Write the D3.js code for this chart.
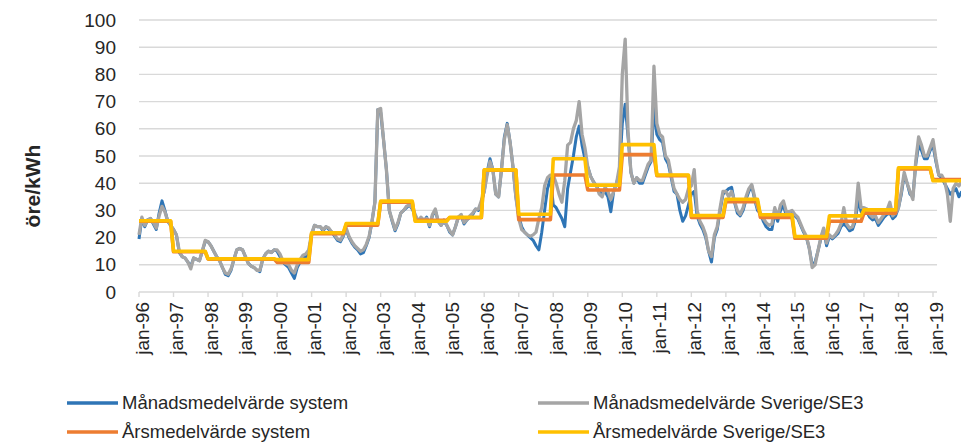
<!DOCTYPE html>
<html>
<head>
<meta charset="utf-8">
<title>Elpris</title>
<script src="https://cdn.jsdelivr.net/npm/d3@7"></script>
<style>
body { margin: 0; background: #fff; }
svg { font-family: "Liberation Sans", Arial, sans-serif; }
</style>
</head>
<body>
<script>

// monthly data starts jan-96
var startYear = 1996;
var tickLabels = ["jan-96","jan-97","jan-98","jan-99","jan-00","jan-01","jan-02","jan-03",
	"jan-04","jan-05","jan-06","jan-07","jan-08","jan-09","jan-10","jan-11","jan-12",
	"jan-13","jan-14","jan-15","jan-16","jan-17","jan-18","jan-19"];
var yTicks = [0, 10, 20, 30, 40, 50, 60, 70, 80, 90, 100];

// Månadsmedelvärde system (öre/kWh)
var sysMonthly = [
	19.5, 27, 24, 26.5, 27, 25, 23, 29, 33.5, 30, 26, 24.5,
	23, 21, 14.5, 13, 12.5, 11, 9.5, 12.5, 12, 11.5, 15, 18.5,
	18.5, 17, 15, 13, 11.5, 9, 6.5, 6, 8, 12, 15.5, 16,
	15.5, 13, 10.5, 9.5, 9, 8, 7.5, 12, 14, 15, 14.5, 15.5,
	15, 13, 11, 10, 9, 7, 5, 9, 11, 12.5, 13, 14.5,
	21, 24.5, 24, 24, 22.5, 24, 23, 22, 20.5, 19, 18.5, 20.5,
	23, 20, 18, 16.5, 15.5, 14, 14.5, 17, 20, 26, 33, 67,
	66, 56, 45, 30, 26, 22.5, 25, 29, 30, 31, 32, 30.5,
	28, 26, 27, 26, 27.5, 24, 28, 30, 26, 24.5, 26, 24.5,
	22, 21, 24, 27.5, 28, 25, 26.5, 27.5, 28.5, 30.5, 30, 33,
	37, 44, 49, 45, 36, 35, 45, 57, 62, 55, 46, 35,
	28, 24, 22, 21, 20, 19, 17, 15.5, 22, 30, 38, 42,
	32, 31, 29, 27, 24, 38, 44, 50, 57, 61, 54, 49,
	46, 42.5, 40.5, 39, 37, 36, 37, 35, 29.5, 37, 40, 44,
	62, 69, 57, 44, 40, 42, 40, 40, 43, 46, 48, 68,
	58, 56, 55, 49, 47, 42, 37, 36, 30, 26, 28, 32,
	36, 37, 28, 25, 23, 20, 15, 11, 20, 23, 30, 36,
	37, 38, 38.5, 33, 29, 28, 30, 34, 37, 39, 34, 30,
	29, 26, 24, 23, 23, 29, 26, 30, 32, 28, 28, 29,
	28, 27, 24.5, 22, 20, 16, 10, 11, 15, 19.5, 23, 17,
	20.5, 19.5, 20.5, 21.5, 24, 25, 24, 22.5, 23, 26, 34, 29.5,
	30, 29.5, 27.5, 26.5, 27, 24.5, 26, 27.5, 28.5, 29, 27, 28,
	31, 36, 43, 40, 36, 35, 47, 54, 52, 49, 49, 52,
	54, 48, 43, 42, 40, 38, 36, 37, 38, 35, 37
];

// Månadsmedelvärde Sverige/SE3
var se3Monthly = [
	21, 27.5, 24.5, 26.5, 27, 25.5, 23.5, 28, 31.5, 29.5, 26, 24.5,
	23, 21, 15, 13, 12.5, 11, 8.5, 12.5, 12, 11.5, 15, 19,
	18.5, 17, 15, 13, 11.5, 9, 7, 6.5, 8.5, 12, 15.5, 16,
	15.5, 13, 10.5, 9.5, 9, 8, 8, 12, 14, 15, 14.5, 15.5,
	15.5, 14, 11.5, 10.5, 10, 8, 7, 10, 12, 13.5, 14, 15.5,
	21.5, 24.5, 24, 24, 23, 24, 23.5, 22, 21, 19.5, 19, 21,
	23.5, 20.5, 18.5, 17, 16, 15, 15.5, 17.5, 20.5, 26, 33, 67,
	67.5, 56, 45, 30, 26.5, 23, 25.5, 29, 30, 31.5, 32, 31,
	28.5, 26, 27.5, 26.5, 27, 24.5, 28.5, 30.5, 26, 24.5, 26.5, 24.5,
	22.5, 21, 24, 27.5, 28.5, 25.5, 26.5, 28, 29, 30.5, 30.5, 33.5,
	37, 43, 48, 45, 36, 35, 45, 56, 61.5, 55, 46, 35,
	27, 23, 22, 21, 20.5, 21, 22, 27, 31, 39, 42, 43,
	43, 40, 36, 33, 41, 54, 55, 60, 63, 70, 58, 53,
	46, 42.5, 40.5, 39, 36, 35, 38.5, 37, 34, 37, 40, 46,
	80, 93, 59, 44, 40, 42, 41, 41, 44, 47, 48.5, 83,
	62, 58, 57, 50, 48.5, 43, 38, 36, 34, 33, 34, 38,
	39, 45, 30, 26, 24, 21, 15, 13, 21, 24, 31, 37,
	37, 35, 37, 33.5, 30, 28.5, 31, 35, 38, 39.5, 35, 31,
	29, 27, 25.5, 24.5, 25, 31, 27.5, 32, 33.5, 29.5, 29.5, 30,
	28.5, 27.5, 25, 22.5, 20.5, 16, 9, 10, 15, 20, 23.5, 18,
	21, 20, 21, 22.5, 25, 31, 25, 23.5, 24, 27.5, 40, 31,
	31, 30.5, 28.5, 27.5, 28, 25.5, 27, 28.5, 30, 33, 28, 29,
	31, 37, 44, 40, 37, 34, 48, 57, 54, 50, 50, 53,
	56, 49, 43, 43, 41, 36, 26, 38, 40, 39, 41
];

// Årsmedelvärde, one value per year 1996-2019
var sysAnnual = [26, 14.8, 12.1, 12.1, 10.9, 21.4, 24.6, 33.0, 26.4, 27.3, 44.8, 26.6,
	43.0, 37.5, 50.5, 42.8, 27.4, 33.2, 27.4, 19.8, 26.0, 29.0, 45.2, 41.3];
var se3Annual = [26.2, 15.0, 12.2, 12.2, 11.9, 21.8, 25.2, 33.4, 26.0, 27.5, 44.9, 28.6,
	49.0, 39.3, 54.2, 43.0, 28.1, 34.1, 28.4, 20.4, 28.0, 30.2, 45.7, 40.9];

var seriesNames = ["Månadsmedelvärde system", "Månadsmedelvärde Sverige/SE3",
	"Årsmedelvärde system", "Årsmedelvärde Sverige/SE3"];
var seriesColors = ["#2e75b6", "#a5a5a5", "#ed7d31", "#ffc000"];


var width = 961, height = 444;

var svg = d3.select("body")
	.append("svg")
	.attr("width", width)
	.attr("height", height);

var x = d3.scaleLinear().domain([0, 276]).range([139, 933]);
var y = d3.scaleLinear().domain([0, 100]).range([292, 20]);
var lastMonth = 277.4; // right end of the plot area

function expandAnnual(annual, n){
	var out = [];
	for (var m = 0; m < n; m++){
		out.push(annual[Math.floor(m / 12)]);
	}
	return out;
}

var n = sysMonthly.length;
var series = [
	sysMonthly,
	se3Monthly,
	expandAnnual(sysAnnual, n),
	expandAnnual(se3Annual, n)
];
var widths = [3, 3.3, 3.6, 3.6];

// grid
svg.append("g").selectAll("line")
	.data(yTicks)
	.enter()
	.append("line")
	.attr("x1", x(0))
	.attr("x2", x(lastMonth))
	.attr("y1", function(d){ return y(d); })
	.attr("y2", function(d){ return y(d); })
	.attr("stroke", "#d9d9d9")
	.attr("stroke-width", 1.4);

// x ticks
svg.append("g").selectAll("line")
	.data(tickLabels)
	.enter()
	.append("line")
	.attr("x1", function(d, i){ return x(i * 12); })
	.attr("x2", function(d, i){ return x(i * 12); })
	.attr("y1", y(0))
	.attr("y2", y(0) + 5)
	.attr("stroke", "#d9d9d9")
	.attr("stroke-width", 1.4);

svg.append("g").selectAll("text")
	.data(yTicks)
	.enter()
	.append("text")
	.attr("x", 116)
	.attr("y", function(d){ return y(d); })
	.attr("dy", "0.35em")
	.attr("text-anchor", "end")
	.attr("font-size", 19)
	.attr("fill", "#262626")
	.text(function(d){ return d; });

svg.append("g").selectAll("text")
	.data(tickLabels)
	.enter()
	.append("text")
	.attr("transform", function(d, i){
		return "translate(" + x(i * 12) + "," + (y(0) + 10) + ") rotate(-90)";
	})
	.attr("dy", "0.5em")
	.attr("text-anchor", "end")
	.attr("font-size", 19)
	.attr("fill", "#262626")
	.text(function(d){ return d; });

svg.append("text")
	.attr("transform", "translate(40,186) rotate(-90)")
	.attr("text-anchor", "middle")
	.attr("font-size", 21)
	.attr("font-weight", "bold")
	.attr("fill", "#262626")
	.text("öre/kWh");

var line = d3.line()
	.x(function(d, i){ return x(i); })
	.y(function(d){ return y(d); });

svg.append("g").selectAll("path")
	.data(series)
	.enter()
	.append("path")
	.attr("d", line)
	.attr("fill", "none")
	.attr("stroke", function(d, i){ return seriesColors[i]; })
	.attr("stroke-width", function(d, i){ return widths[i]; })
	.attr("stroke-linejoin", "round");

// legend
var legendPos = [[67, 403], [538, 403], [67, 432], [538, 432]];
var leg = svg.append("g").selectAll("g")
	.data(seriesNames)
	.enter()
	.append("g")
	.attr("transform", function(d, i){
		return "translate(" + legendPos[i][0] + "," + legendPos[i][1] + ")";
	});
leg.append("line")
	.attr("x1", 0).attr("x2", 51)
	.attr("stroke", function(d, i){ return seriesColors[i]; })
	.attr("stroke-width", 3.5);
leg.append("text")
	.attr("x", 55)
	.attr("dy", "0.35em")
	.attr("font-size", 18.5)
	.attr("fill", "#262626")
	.text(function(d){ return d; });

</script>
</body>
</html>
